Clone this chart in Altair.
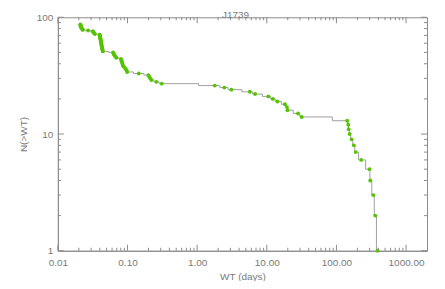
import altair as alt
import pandas as pd

# ---- data ----
wt = [0.0210, 0.0211, 0.0212, 0.0213, 0.0214, 0.0216, 0.0218, 0.0221, 0.0225, 0.0228,
      0.0272,
      0.0318, 0.0322, 0.0326, 0.0332, 0.0340,
      0.0398,
      0.0400, 0.0401, 0.0403, 0.0405, 0.0407, 0.0409, 0.0411, 0.0413, 0.0415, 0.0417,
      0.0419, 0.0421, 0.0423, 0.0425, 0.0428, 0.0430, 0.0433, 0.0436, 0.0439, 0.0442,
      0.0620, 0.0630, 0.0640, 0.0655, 0.0670, 0.0690,
      0.0805, 0.0815, 0.0825, 0.0835, 0.0845, 0.0855, 0.0870,
      0.0915, 0.0945, 0.0970, 0.0990,
      0.145,
      0.199, 0.205, 0.212, 0.220,
      0.259, 0.310,
      1.79, 2.45, 3.10, 5.7, 6.8, 10.5, 12.2, 14.2, 18.2, 19.5, 19.8, 28.1, 31.7,
      143, 148, 150, 155, 165, 178, 189, 227, 299, 306, 338, 361, 390]
n = [87, 86, 85, 84, 83, 82, 81, 80, 79, 78,
     77,
     76, 75, 74, 73, 72,
     71,
     70, 69, 68, 67, 66, 65, 64, 63, 62, 61,
     60, 59, 58, 57, 56, 55, 54, 53, 52, 51,
     50, 49, 48, 47, 46, 45,
     44, 43, 42, 41, 40, 39, 38,
     37, 36, 35, 34,
     33,
     32, 31, 30, 29,
     28, 27,
     26, 25, 24, 23, 22, 21, 20, 19, 18, 17, 16, 15, 14,
     13, 12, 11, 10, 9, 8, 7, 6, 5, 4, 3, 2, 1]

x_labels = [0.01, 0.1, 1, 10, 100, 1000]
y_labels = [1, 10, 100]
x_domain = [0.01, 2000]
y_domain = [1, 100]

W, H = 370, 234
AX = "#8c8c8c"
TXT = "#7a7a7a"
GREEN = "#55c400"
FONT = "Liberation Sans"

pts = pd.DataFrame({"wt": wt, "n": n})

# histogram-style step line (vertical jumps at the linear midpoints)
sx, sy, so = [], [], []
for i in range(len(wt)):
    left = wt[i] - (wt[i + 1] - wt[i]) / 2 if i == 0 else (wt[i - 1] + wt[i]) / 2
    right = wt[i] + (wt[i] - wt[i - 1]) / 2 if i == len(wt) - 1 else (wt[i] + wt[i + 1]) / 2
    sx += [left, right]
    sy += [n[i], n[i]]
    so += [2 * i, 2 * i + 1]
steps = pd.DataFrame({"wt": sx, "n": sy, "k": so})

# tick positions for inward ticks
x_minor = [k * 10.0 ** e for e in range(-2, 4) for k in range(2, 10) if k * 10.0 ** e < 2000]
y_minor = [k * 10.0 ** e for e in range(0, 2) for k in range(2, 10)]
xmaj = pd.DataFrame({"wt": x_labels})
xmin = pd.DataFrame({"wt": x_minor})
ymaj = pd.DataFrame({"n": y_labels})
ymin = pd.DataFrame({"n": y_minor})

xs = alt.Scale(type="log", domain=x_domain, nice=False)
ys = alt.Scale(type="log", domain=y_domain, nice=False)

xaxis = alt.Axis(values=x_labels, format=".2f", ticks=False, grid=False, title="WT (days)",
                 labelPadding=7, labelOverlap=False, labelFlush=False, titlePadding=4)
yaxis = alt.Axis(values=y_labels, format="d", ticks=False, grid=False, title="N(>WT)",
                 labelPadding=5, labelOverlap=False, labelFlush=False, titlePadding=8)

X = alt.X("wt:Q", scale=xs, axis=xaxis)
Y = alt.Y("n:Q", scale=ys, axis=yaxis)

line = alt.Chart(steps).mark_line(color="#a0a0a0", strokeWidth=1).encode(
    x=X, y=Y, order="k:Q",
)
dots = alt.Chart(pts).mark_circle(size=15, color=GREEN, opacity=1).encode(x=X, y=Y)


def xticks(df, length):
    bottom = alt.Chart(df).mark_rule(color=AX, strokeWidth=1).encode(
        x=X, y=alt.value(H), y2=alt.value(H - length))
    top = alt.Chart(df).mark_rule(color=AX, strokeWidth=1).encode(
        x=X, y=alt.value(0), y2=alt.value(length))
    return [bottom, top]


def yticks(df, length):
    left = alt.Chart(df).mark_rule(color=AX, strokeWidth=1).encode(
        y=Y, x=alt.value(0), x2=alt.value(length))
    right = alt.Chart(df).mark_rule(color=AX, strokeWidth=1).encode(
        y=Y, x=alt.value(W), x2=alt.value(W - length))
    return [left, right]


layers = [line, dots] + xticks(xmaj, 6) + xticks(xmin, 3) + yticks(ymaj, 6) + yticks(ymin, 3)

chart = alt.layer(*layers).properties(
    width=W, height=H,
    title=alt.TitleParams("J1739", fontSize=10, font=FONT, fontWeight="normal", color=TXT,
                          offset=0, dx=-7, dy=8),
    autosize=alt.AutoSizeParams(type="none"),
    padding={"left": 50, "top": 9, "right": 10, "bottom": 30},
).configure_view(stroke=AX, strokeWidth=1).configure_axis(
    domainColor=AX, labelColor=TXT, titleColor=TXT, labelFont=FONT, titleFont=FONT,
    labelFontSize=10, titleFontSize=10, titleFontWeight="normal",
)

chart.save("out.html", embed_options={"renderer": "svg", "actions": False})
